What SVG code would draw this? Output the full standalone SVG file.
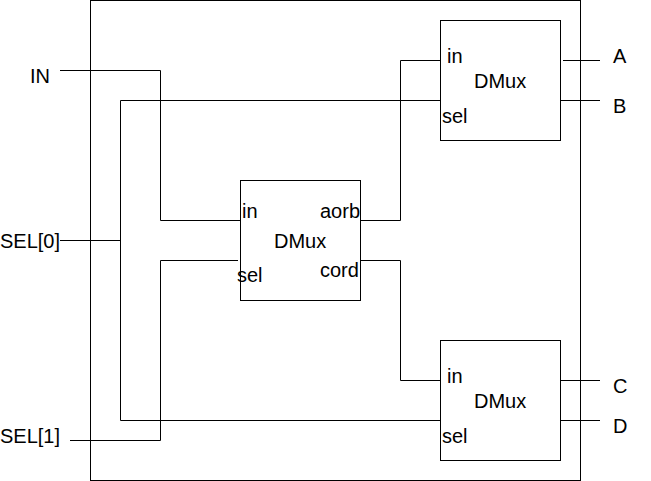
<svg xmlns="http://www.w3.org/2000/svg" width="651" height="481" viewBox="0 0 651 481">
<style>
.box{fill:#fff;stroke:#000;stroke-width:1}
.w{fill:none;stroke:#000;stroke-width:1}
text{font-family:"Liberation Sans",Arial,sans-serif;font-size:20px;fill:#000}
</style>
<rect width="651" height="481" fill="#fff"/>
<g id="outer"><rect class="box" x="90.5" y="0.5" width="490" height="480"/></g>
<g id="connectors">
<path class="w" d="M60 70.5H160.5V220.5H240"/>
<path class="w" d="M60 240.5H120.5"/>
<path class="w" d="M440 100.5H120.5V420.5H440"/>
<path class="w" d="M70 440.5H160.5V260.5H238"/>
<path class="w" d="M360 220.5H400.5V60.5H442"/>
<path class="w" d="M360 260.5H400.5V380.5H440"/>
<path class="w" d="M563 60.5H600"/>
<path class="w" d="M560 100.5H600"/>
<path class="w" d="M560 380.5H600"/>
<path class="w" d="M558 420.5H600"/>
</g>
<g id="mid">
<rect class="box" x="240.5" y="180.5" width="120" height="120"/>
<text x="242" y="218">in</text>
<text x="320" y="218">aorb</text>
<text x="274" y="248">DMux</text>
<text x="237" y="282">sel</text>
<text x="320" y="277">cord</text>
</g>
<g id="top">
<rect class="box" x="440.5" y="20.5" width="120" height="120"/>
<text x="447" y="63">in</text>
<text x="474" y="88">DMux</text>
<text x="442" y="123">sel</text>
</g>
<g id="bottom">
<rect class="box" x="440.5" y="340.5" width="120" height="120"/>
<text x="447" y="383">in</text>
<text x="474" y="408">DMux</text>
<text x="442" y="443">sel</text>
</g>
<g id="labels">
<text x="30" y="83">IN</text>
<text x="0" y="248">SEL[0]</text>
<text x="0" y="443">SEL[1]</text>
<text x="613" y="63">A</text>
<text x="613" y="113">B</text>
<text x="613" y="393">C</text>
<text x="613" y="433">D</text>
</g>
</svg>
